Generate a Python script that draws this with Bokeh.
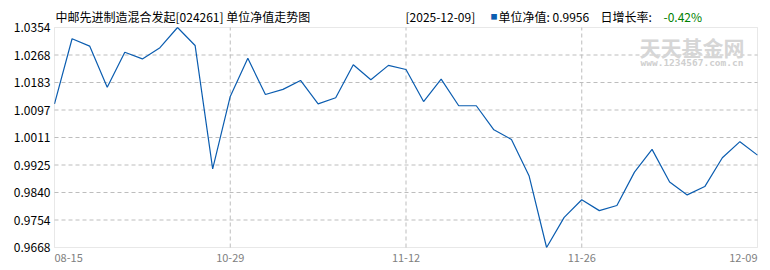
import numpy as np
from bokeh.plotting import figure
from bokeh.models import Range1d, FixedTicker, CustomJSTickFormatter, BoxAnnotation
from bokeh.core.properties import value
from bokeh.embed import file_html
from bokeh.resources import INLINE

# ---------------- data ----------------
dates = ["08-15", "08-22", "08-29", "09-05", "09-12", "09-19", "09-26", "10-10", "10-17", "10-24",
         "10-29", "10-30", "10-31", "11-03", "11-04", "11-05", "11-06", "11-07", "11-10", "11-11",
         "11-12", "11-13", "11-14", "11-17", "11-18", "11-19", "11-20", "11-21", "11-24", "11-25",
         "11-26", "11-27", "11-28", "11-30", "12-01", "12-02", "12-03", "12-04", "12-05", "12-08",
         "12-09"]
nav = [1.0116, 1.0319, 1.0296, 1.0168, 1.0277, 1.0256, 1.0291, 1.0354, 1.0298, 0.9913,
       1.0139, 1.0258, 1.0145, 1.0161, 1.0189, 1.0116, 1.0135, 1.0238, 1.0191, 1.0236,
       1.0223, 1.0123, 1.0193, 1.0110, 1.0110, 1.0035, 1.0005, 0.9892, 0.9668, 0.9762,
       0.9817, 0.9783, 0.9799, 0.9903, 0.9974, 0.9872, 0.9832, 0.9858, 0.9948, 0.9998,
       0.9956]
y_tick_labels = ["0.9668", "0.9754", "0.9840", "0.9925", "1.0011", "1.0097", "1.0183", "1.0268", "1.0354"]
x_tick_idx = [0, 10, 20, 30, 40]
x_tick_labels = [dates[i] for i in x_tick_idx]

title_text = "中邮先进制造混合发起[024261] 单位净值走势图"
head_date = "[2025-12-09]"
head_nav = "单位净值: 0.9956"
head_rate_lbl = "日增长率:"
head_rate = "-0.42%"
wm_big = "天天基金网"
wm_small = "www.1234567.com.cn"

# ---------------- geometry (pixels of the reference layout) ----------------
W, H = 770, 270
FRAME_L, FRAME_R = 53, 758          # drawing frame (left border holds the y axis)
PL, PR, PT, PB = 54, 757, 27, 247   # plot box in pixels
idx = list(range(len(nav)))
X0, X1 = 0, len(nav) - 1
Y_MIN, Y_MAX = min(nav), max(nav)
sx = (PR - PL) / (X1 - X0)
sy = (PB - PT) / (Y_MAX - Y_MIN)


def px_x(px):
    return X0 + (px - PL) / sx


def px_y(py):
    return Y_MAX - (py - PT) / sy


p = figure(width=W, height=H, output_backend="svg", toolbar_location=None,
           x_range=Range1d(px_x(FRAME_L), px_x(FRAME_R)), y_range=Range1d(px_y(H), px_y(0)),
           x_axis_location=None, min_border_left=FRAME_L, min_border_right=W - FRAME_R,
           min_border_top=0, min_border_bottom=0)
p.title.visible = False
p.background_fill_color = "white"
p.border_fill_color = "white"
p.outline_line_color = None
p.xgrid.grid_line_color = None
p.ygrid.grid_line_color = None

yticks = list(np.linspace(Y_MIN, Y_MAX, len(y_tick_labels)))
ax = p.yaxis[0]
ax.ticker = FixedTicker(ticks=yticks)
ax.formatter = CustomJSTickFormatter(args=dict(labels=y_tick_labels), code="return labels[index]")
ax.axis_line_color = None
ax.major_tick_line_color = None
ax.minor_tick_line_color = None
ax.major_tick_out = 0
ax.major_tick_in = 0
ax.major_label_standoff = 3
ax.major_label_text_font = "Noto Sans CJK SC"
ax.major_label_text_font_size = "12px"
ax.major_label_text_color = "#000000"

GRID = "#bdbdbd"
# horizontal grid lines at the inner y ticks
inner_y = yticks[1:-1]
p.segment(x0=[X0] * len(inner_y), x1=[X1] * len(inner_y), y0=inner_y, y1=inner_y,
          line_color=GRID, line_dash="4 3", line_width=1)
# vertical grid lines at the inner x ticks
inner_x = x_tick_idx[1:-1]
p.segment(x0=inner_x, x1=inner_x, y0=[Y_MIN] * len(inner_x), y1=[Y_MAX] * len(inner_x),
          line_color=GRID, line_dash="4 3", line_width=1)

# plot box
p.add_layout(BoxAnnotation(left=X0, right=X1, bottom=Y_MIN, top=Y_MAX,
                           fill_color=None, line_color="#b4b4b4", line_width=1))

# watermark
p.text(x=[px_x(639)], y=[px_y(46)], text=[wm_big], text_font=value("Noto Sans CJK SC"),
       text_font_size="21px", text_font_style="bold", text_color="#d6d6d6",
       text_align="left", text_baseline="middle")
p.text(x=[px_x(640)], y=[px_y(62)], text=[wm_small], text_font=value("DejaVu Sans Mono"),
       text_font_size="9.5px", text_font_style="bold", text_color="#cfcfcf",
       text_align="left", text_baseline="middle")

# NAV line
p.line(idx, nav, line_color="#0b5db0", line_width=1.2)

# x tick labels
for k, (i, t) in enumerate(zip(x_tick_idx, x_tick_labels)):
    align = "left" if k == 0 else ("right" if k == len(x_tick_idx) - 1 else "center")
    p.text(x=[i], y=[px_y(257.5)], text=[t], text_align=align, text_baseline="middle",
           text_font=value("Noto Sans CJK SC"), text_font_size="11px", text_color="#808080")


# header texts
def hdr(px, py, text, color="#000000", size="12px", font="Noto Sans CJK SC"):
    p.text(x=[px_x(px)], y=[px_y(py)], text=[text], text_align="left", text_baseline="middle",
           text_font=value(font), text_font_size=size, text_color=color)


hdr(55, 16, title_text)
hdr(405, 16, head_date)
hdr(490, 15.5, "■", color="#0b5db0", size="7px")
hdr(498, 16, head_nav)
hdr(600, 16, head_rate_lbl)
hdr(663, 16, head_rate, color="#008000")

open("out.html", "w").write(file_html(p, INLINE))
